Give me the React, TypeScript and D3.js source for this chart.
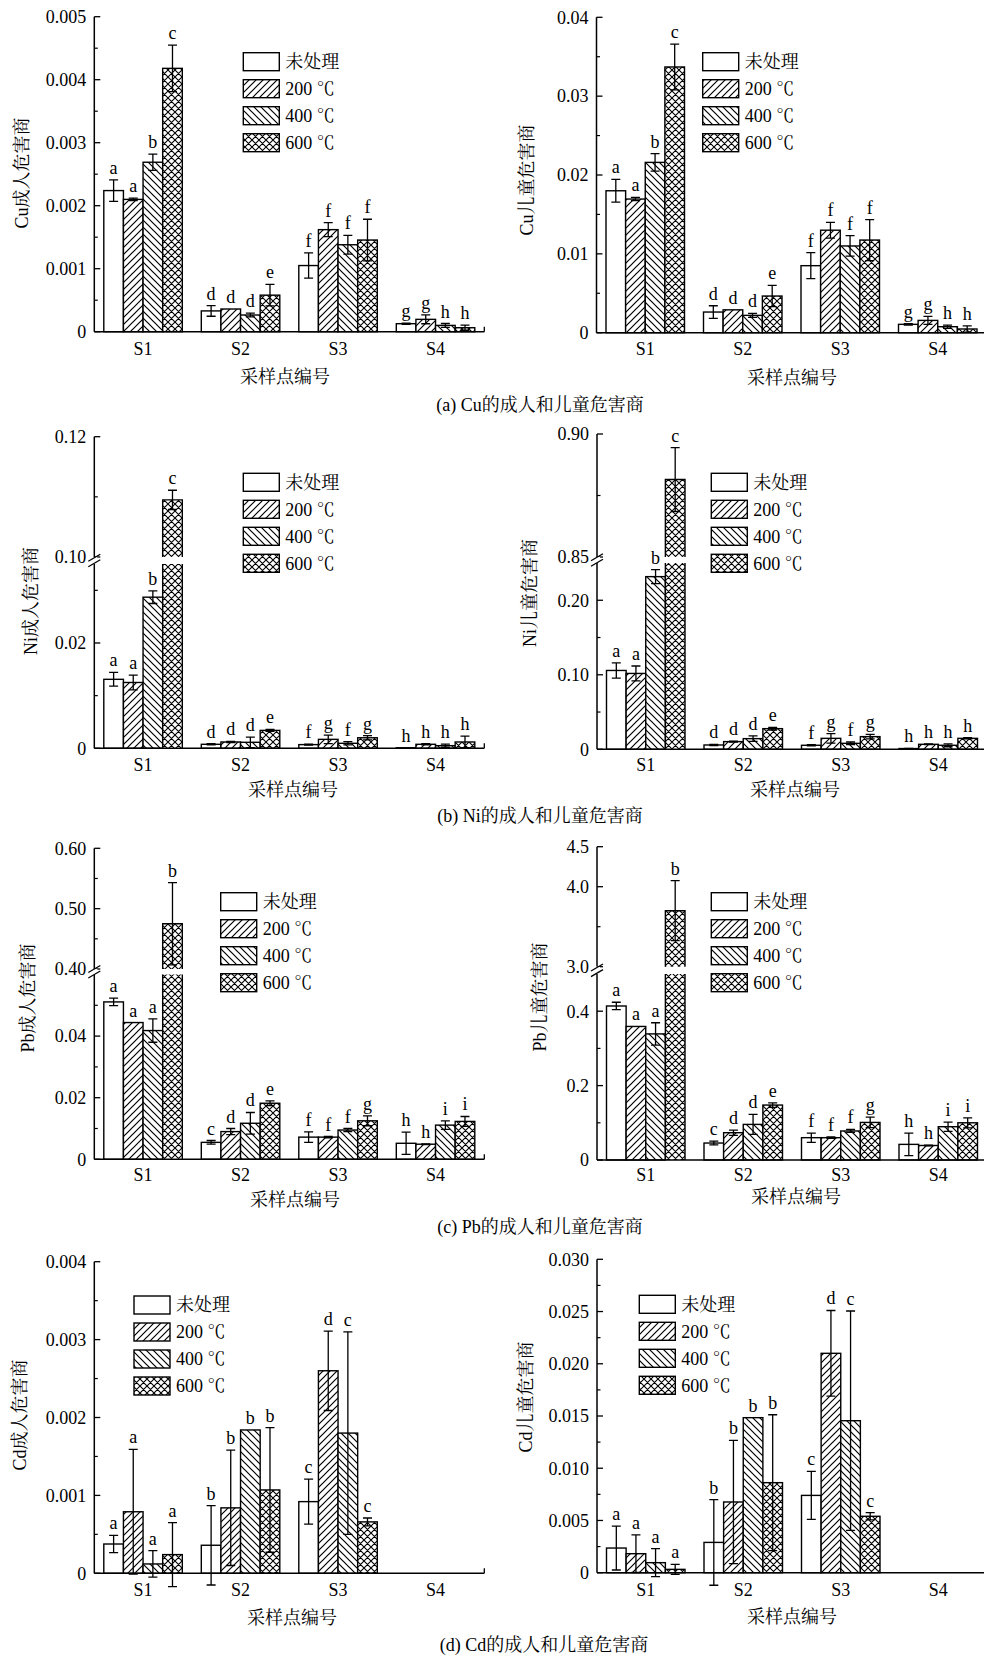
import React from "react";
import * as d3 from "d3";

const categories = ["S1", "S2", "S3", "S4"];
const seriesNames = ["未处理", "200 ℃", "400 ℃", "600 ℃"];

// values are [category][series]
const cuAdultMean = [
  [0.00224, 0.0021, 0.00269, 0.00418],
  [0.00033, 0.00036, 0.000265, 0.00058],
  [0.00105, 0.00162, 0.00138, 0.001455],
  [0.000127, 0.000196, 0.0001, 0.000063],
];
const cuAdultErr = [
  [0.00017, 0.00002, 0.00013, 0.00037],
  [0.000085, 0, 0.00003, 0.00017],
  [0.0002, 0.00011, 0.00015, 0.00033],
  [0.00001, 0.00007, 0.00003, 0.00004],
];
const cuChildMean = [
  [0.018, 0.01695, 0.0216, 0.0337],
  [0.00262, 0.0029, 0.0022, 0.00465],
  [0.0085, 0.013, 0.011, 0.01175],
  [0.00106, 0.00156, 0.00076, 0.00047],
];
const cuChildErr = [
  [0.00145, 0.0002, 0.0011, 0.0029],
  [0.0008, 0, 0.00025, 0.00135],
  [0.00165, 0.001, 0.0013, 0.0026],
  [0.0001, 0.0005, 0.0002, 0.0004],
];
const cuSig = [
  ["a", "a", "b", "c"],
  ["d", "d", "d", "e"],
  ["f", "f", "f", "f"],
  ["g", "g", "h", "h"],
];

const niAdultMean = [
  [0.0131, 0.0125, 0.0287, 0.1095],
  [0.00076, 0.0012, 0.00114, 0.0034],
  [0.0007, 0.0017, 0.00095, 0.002],
  [0.0001, 0.00076, 0.0005, 0.0012],
];
const niAdultErr = [
  [0.0013, 0.0014, 0.0012, 0.0016],
  [0.0001, 0.0001, 0.001, 0.0002],
  [0.0001, 0.0008, 0.0003, 0.0004],
  [0, 0.0001, 0.0003, 0.0011],
];
const niChildMean = [
  [0.1058, 0.1018, 0.2317, 0.8815],
  [0.0058, 0.0103, 0.0143, 0.0277],
  [0.0054, 0.0147, 0.008, 0.017],
  [0.001, 0.0067, 0.0054, 0.0147],
];
const niChildErr = [
  [0.0103, 0.01, 0.0094, 0.013],
  [0.0008, 0.0005, 0.0036, 0.0018],
  [0.0008, 0.0063, 0.0018, 0.003],
  [0.0002, 0.0005, 0.002, 0.0008],
];
const niSig = [
  ["a", "a", "b", "c"],
  ["d", "d", "d", "e"],
  ["f", "g", "f", "g"],
  ["h", "h", "h", "h"],
];

const pbAdultMean = [
  [0.0511, 0.0444, 0.0418, 0.475],
  [0.0055, 0.009, 0.0117, 0.0182],
  [0.0072, 0.0072, 0.0095, 0.0125],
  [0.0052, 0.0049, 0.0111, 0.0123],
];
const pbAdultErr = [
  [0.0012, 0, 0.0038, 0.068],
  [0.0006, 0.001, 0.0035, 0.0008],
  [0.0017, 0.0002, 0.0005, 0.0016],
  [0.0036, 0.0001, 0.0014, 0.0016],
];
const pbChildMean = [
  [0.414, 0.359, 0.339, 3.7],
  [0.0456, 0.0734, 0.0957, 0.1477],
  [0.06, 0.06, 0.078, 0.101],
  [0.042, 0.039, 0.0895, 0.1],
];
const pbChildErr = [
  [0.01, 0, 0.03, 0.375],
  [0.005, 0.007, 0.027, 0.006],
  [0.0125, 0.002, 0.004, 0.014],
  [0.03, 0.001, 0.0125, 0.0134],
];
const pbSig = [
  ["a", "a", "a", "b"],
  ["c", "d", "d", "e"],
  ["f", "f", "f", "g"],
  ["h", "h", "i", "i"],
];

const cdAdultMean = [
  [0.000376, 0.00079, 0.00012, 0.00024],
  [0.00036, 0.00084, 0.00184, 0.00107],
  [0.00092, 0.0026, 0.0018, 0.00066],
  [null, null, null, null],
];
const cdAdultErr = [
  [0.00011, 0.0008, 0.00017, 0.00041],
  [0.00051, 0.00074, 0, 0.0008],
  [0.00029, 0.00051, 0.0013, 0.00005],
  [0, 0, 0, 0],
];
const cdChildMean = [
  [0.00236, 0.00182, 0.00096, 0.00032],
  [0.0029, 0.00677, 0.01484, 0.00862],
  [0.0074, 0.021, 0.01455, 0.0054],
  [null, null, null, null],
];
const cdChildErr = [
  [0.0021, 0.0018, 0.00134, 0.00048],
  [0.0041, 0.0059, 0, 0.0065],
  [0.0023, 0.0041, 0.0105, 0.00035],
  [0, 0, 0, 0],
];
const cdSig = [
  ["a", "a", "a", "a"],
  ["b", "b", "b", "b"],
  ["c", "d", "c", "c"],
  ["", "", "", ""],
];

// tick values
const cuAdultTicks = [0, 0.001, 0.002, 0.003, 0.004, 0.005];
const cuAdultMinor = [0.0005, 0.0015, 0.0025, 0.0035, 0.0045];
const cuChildTicks = [0, 0.01, 0.02, 0.03, 0.04];
const cuChildMinor = [0.005, 0.015, 0.025, 0.035];
const niAdultLowTicks = [0, 0.02];
const niAdultLowMinor = [0.01, 0.03];
const niAdultHighTicks = [0.1, 0.12];
const niAdultHighMinor = [0.11];
const niChildLowTicks = [0, 0.1, 0.2];
const niChildLowMinor = [0.05, 0.15];
const niChildHighTicks = [0.85, 0.9];
const niChildHighMinor = [0.875];
const pbAdultLowTicks = [0, 0.02, 0.04];
const pbAdultLowMinor = [0.01, 0.03, 0.05];
const pbAdultHighTicks = [0.4, 0.5, 0.6];
const pbAdultHighMinor = [0.45, 0.55];
const pbChildLowTicks = [0, 0.2, 0.4];
const pbChildLowMinor = [0.1, 0.3];
const pbChildHighTicks = [3.0, 4.0, 4.5];
const pbChildHighMinor = [3.5];
const cdAdultTicks = [0, 0.001, 0.002, 0.003, 0.004];
const cdAdultMinor = [0.0005, 0.0015, 0.0025, 0.0035];
const cdChildTicks = [0, 0.005, 0.01, 0.015, 0.02, 0.025, 0.03];
const cdChildMinor = [0.0025, 0.0075, 0.0125, 0.0175, 0.0225, 0.0275];

const FONT = "'Liberation Serif', 'Times New Roman', 'Noto Serif CJK SC', 'Noto Sans CJK SC', serif";
const fills = ["#fff", "url(#p200)", "url(#p400)", "url(#p600)"];

type Seg = { domain: [number, number]; range: [number, number]; major: number[]; minor: number[] };

type PanelProps = {
  ax: number;
  segs: Seg[];
  fmt: (v: number) => string;
  mean: (number | null)[][];
  err: number[][];
  sig: string[][];
  legend: [number, number];
  yTitle: [string, number, number];
  xTitle: [number, number];
  catY: number;
};

const X_LEN = 390;

function Panel({ ax, segs, fmt, mean, err, sig, legend, yTitle, xTitle, catY }: PanelProps) {
  const scales = segs.map((s) => d3.scaleLinear().domain(s.domain).range(s.range));
  const y0 = segs[0].range[0];
  const yPos = (v: number) => {
    if (segs.length > 1 && v > segs[0].domain[1] && v < segs[1].domain[0]) return segs[0].range[1];
    const i = v <= segs[0].domain[1] || segs.length === 1 ? 0 : 1;
    return scales[i](v);
  };
  const x0 = d3.scaleBand().domain(categories).range([ax, ax + X_LEN]);
  const x1 = d3.scaleBand().domain(seriesNames).range([9.5, x0.bandwidth() - 9.5]);
  const w = x1.bandwidth();

  const bars: React.ReactNode[] = [];
  categories.forEach((c, ci) => {
    seriesNames.forEach((s, si) => {
      const v = mean[ci][si];
      if (v === null || v === undefined) return;
      const x = (x0(c) as number) + (x1(s) as number);
      const key = `${ci}-${si}`;
      if (segs.length === 1 || v <= segs[0].domain[1]) {
        const yv = yPos(v);
        bars.push(
          <rect key={key} x={x} y={yv} width={w} height={y0 - yv} fill={fills[si]} stroke="#000" strokeWidth={1.4} />
        );
      } else {
        const lt = segs[0].range[1];
        const ub = segs[1].range[0];
        const yv = yPos(v);
        bars.push(
          <g key={key}>
            <rect x={x} y={lt} width={w} height={y0 - lt} fill={fills[si]} />
            <path d={`M${x},${y0}V${lt}M${x + w},${y0}V${lt}`} stroke="#000" strokeWidth={1.4} fill="none" />
            <rect x={x} y={yv} width={w} height={ub - yv} fill={fills[si]} />
            <path d={`M${x},${ub}V${yv}H${x + w}V${ub}`} stroke="#000" strokeWidth={1.4} fill="none" />
          </g>
        );
      }
      const e = err[ci][si];
      const cx = x + w / 2;
      const yTopErr = yPos(v + e);
      if (e > 0) {
        const yBot = yPos(Math.max(v - e, segs[0].domain[0] - 1));
        bars.push(
          <path
            key={key + "e"}
            d={`M${cx},${yBot}V${yTopErr}M${cx - 4.5},${yTopErr}H${cx + 4.5}M${cx - 4.5},${yBot}H${cx + 4.5}`}
            stroke="#000"
            strokeWidth={1.3}
            fill="none"
          />
        );
      }
      if (sig[ci][si]) {
        bars.push(
          <text key={key + "t"} x={cx} y={yTopErr - 6} textAnchor="middle" fontSize={18}>
            {sig[ci][si]}
          </text>
        );
      }
    });
  });

  const axisEls: React.ReactNode[] = [];
  segs.forEach((s, i) => {
    axisEls.push(<line key={"ax" + i} x1={ax} x2={ax} y1={s.range[0]} y2={s.range[1]} stroke="#000" strokeWidth={1.5} />);
    s.major.forEach((t) => {
      const yy = scales[i](t);
      axisEls.push(<line key={`mj${i}-${t}`} x1={ax} x2={ax + 6} y1={yy} y2={yy} stroke="#000" strokeWidth={1.3} />);
      axisEls.push(
        <text key={`ml${i}-${t}`} x={ax - 8} y={yy} dy="0.35em" textAnchor="end" fontSize={18}>
          {fmt(t)}
        </text>
      );
    });
    s.minor.forEach((t) => {
      const yy = scales[i](t);
      axisEls.push(<line key={`mn${i}-${t}`} x1={ax} x2={ax + 3.5} y1={yy} y2={yy} stroke="#000" strokeWidth={1.2} />);
    });
  });
  if (segs.length > 1) {
    const mid = (segs[0].range[1] + segs[1].range[0]) / 2;
    axisEls.push(
      <rect key="bg" x={ax - 3} y={segs[1].range[0]} width={6} height={segs[0].range[1] - segs[1].range[0]} fill="#fff" />
    );
    [-2.8, 2.8].forEach((d) =>
      axisEls.push(
        <line key={"br" + d} x1={ax - 6} y1={mid + d + 3.5} x2={ax + 6} y2={mid + d - 3.5} stroke="#000" strokeWidth={1.3} />
      )
    );
  }

  return (
    <g>
      {bars}
      <line x1={ax} x2={ax + X_LEN} y1={y0} y2={y0} stroke="#000" strokeWidth={1.5} />
      <line x1={ax + X_LEN} x2={ax + X_LEN} y1={y0} y2={y0 - 5} stroke="#000" strokeWidth={1.3} />
      {axisEls}
      {categories.map((c) => (
        <text key={c} x={(x0(c) as number) + x0.bandwidth() / 2} y={catY} dy="0.35em" textAnchor="middle" fontSize={18}>
          {c}
        </text>
      ))}
      <text x={xTitle[0]} y={xTitle[1]} dy="0.35em" textAnchor="middle" fontSize={18}>
        采样点编号
      </text>
      <text
        transform={`translate(${yTitle[1]},${yTitle[2]}) rotate(-90)`}
        dy="0.35em"
        textAnchor="middle"
        fontSize={18}
      >
        {yTitle[0]}
      </text>
      {seriesNames.map((s, i) => {
        const cy = legend[1] + i * 27;
        return (
          <g key={s}>
            <rect x={legend[0]} y={cy - 9} width={36} height={18} fill={fills[i]} stroke="#000" strokeWidth={1.4} />
            <text x={legend[0] + 42} y={cy} dy="0.35em" fontSize={18}>
              {s}
            </text>
          </g>
        );
      })}
    </g>
  );
}

const fmtN = (p: string) => (v: number) => (v === 0 ? "0" : d3.format(p)(v));

export default function App() {
  return (
    <svg
      width={984}
      height={1657}
      style={{ position: "absolute", left: 0, top: 0, background: "#fff" }}
      fontFamily={FONT}
    >
      <defs>
        <pattern id="p200" patternUnits="userSpaceOnUse" width={7} height={7}>
          <rect width={7} height={7} fill="#fff" />
          <path d="M0,7L7,0M-1,1L1,-1M6,8L8,6" stroke="#000" strokeWidth={1.2} />
        </pattern>
        <pattern id="p400" patternUnits="userSpaceOnUse" width={7} height={7}>
          <rect width={7} height={7} fill="#fff" />
          <path d="M0,0L7,7M-1,6L1,8M6,-1L8,1" stroke="#000" strokeWidth={1.2} />
        </pattern>
        <pattern id="p600" patternUnits="userSpaceOnUse" width={7} height={7}>
          <rect width={7} height={7} fill="#fff" />
          <path d="M0,7L7,0M-1,1L1,-1M6,8L8,6M0,0L7,7M-1,6L1,8M6,-1L8,1" stroke="#000" strokeWidth={1.1} />
        </pattern>
      </defs>

      {/* (a) Cu */}
      <Panel
        ax={94.3}
        segs={[{ domain: [0, 0.005], range: [331.7, 16.7], major: cuAdultTicks, minor: cuAdultMinor }]}
        fmt={fmtN(".3f")}
        mean={cuAdultMean}
        err={cuAdultErr}
        sig={cuSig}
        legend={[243.3, 61.7]}
        yTitle={["Cu成人危害商", 22, 173]}
        xTitle={[285, 376.7]}
        catY={348.3}
      />
      <Panel
        ax={596.5}
        segs={[{ domain: [0, 0.04], range: [332.7, 17.3], major: cuChildTicks, minor: cuChildMinor }]}
        fmt={fmtN(".2f")}
        mean={cuChildMean}
        err={cuChildErr}
        sig={cuSig}
        legend={[702.7, 61.7]}
        yTitle={["Cu儿童危害商", 527, 180]}
        xTitle={[792, 378]}
        catY={348.3}
      />
      <text x={540} y={405} dy="0.35em" textAnchor="middle" fontSize={18}>
        (a) Cu的成人和儿童危害商
      </text>

      {/* (b) Ni */}
      <Panel
        ax={94.3}
        segs={[
          { domain: [0, 0.035], range: [748.3, 564], major: niAdultLowTicks, minor: niAdultLowMinor },
          { domain: [0.1, 0.12], range: [557, 436.7], major: niAdultHighTicks, minor: niAdultHighMinor },
        ]}
        fmt={fmtN(".2f")}
        mean={niAdultMean}
        err={niAdultErr}
        sig={niSig}
        legend={[243.3, 482.3]}
        yTitle={["Ni成人危害商", 31, 601]}
        xTitle={[293, 790]}
        catY={765}
      />
      <Panel
        ax={597}
        segs={[
          { domain: [0, 0.25], range: [749.3, 563], major: niChildLowTicks, minor: niChildLowMinor },
          { domain: [0.85, 0.9], range: [557, 434], major: niChildHighTicks, minor: niChildHighMinor },
        ]}
        fmt={fmtN(".2f")}
        mean={niChildMean}
        err={niChildErr}
        sig={niSig}
        legend={[711.3, 482.3]}
        yTitle={["Ni儿童危害商", 529.5, 593]}
        xTitle={[795, 790]}
        catY={765}
      />
      <text x={540} y={816} dy="0.35em" textAnchor="middle" fontSize={18}>
        (b) Ni的成人和儿童危害商
      </text>

      {/* (c) Pb */}
      <Panel
        ax={94.3}
        segs={[
          { domain: [0, 0.06], range: [1159.3, 974.5], major: pbAdultLowTicks, minor: pbAdultLowMinor },
          { domain: [0.4, 0.6], range: [969, 848.3], major: pbAdultHighTicks, minor: pbAdultHighMinor },
        ]}
        fmt={fmtN(".2f")}
        mean={pbAdultMean}
        err={pbAdultErr}
        sig={pbSig}
        legend={[220.7, 901.7]}
        yTitle={["Pb成人危害商", 28, 998]}
        xTitle={[295, 1200]}
        catY={1175}
      />
      <Panel
        ax={597}
        segs={[
          { domain: [0, 0.5], range: [1160, 974], major: pbChildLowTicks, minor: pbChildLowMinor },
          { domain: [3.0, 4.5], range: [966.7, 846.7], major: pbChildHighTicks, minor: pbChildHighMinor },
        ]}
        fmt={fmtN(".1f")}
        mean={pbChildMean}
        err={pbChildErr}
        sig={pbSig}
        legend={[711.3, 901.7]}
        yTitle={["Pb儿童危害商", 540, 997]}
        xTitle={[796, 1196.7]}
        catY={1175}
      />
      <text x={540} y={1227} dy="0.35em" textAnchor="middle" fontSize={18}>
        (c) Pb的成人和儿童危害商
      </text>

      {/* (d) Cd */}
      <Panel
        ax={94.3}
        segs={[{ domain: [0, 0.004], range: [1573.3, 1261.7], major: cdAdultTicks, minor: cdAdultMinor }]}
        fmt={fmtN(".3f")}
        mean={cdAdultMean}
        err={cdAdultErr}
        sig={cdSig}
        legend={[134, 1305]}
        yTitle={["Cd成人危害商", 19.5, 1415]}
        xTitle={[292, 1618]}
        catY={1589.3}
      />
      <Panel
        ax={597}
        segs={[{ domain: [0, 0.03], range: [1572.7, 1259.3], major: cdChildTicks, minor: cdChildMinor }]}
        fmt={fmtN(".3f")}
        mean={cdChildMean}
        err={cdChildErr}
        sig={cdSig}
        legend={[639.3, 1304.3]}
        yTitle={["Cd儿童危害商", 526, 1397]}
        xTitle={[792, 1616.7]}
        catY={1589.3}
      />
      <text x={544} y={1645} dy="0.35em" textAnchor="middle" fontSize={18}>
        (d) Cd的成人和儿童危害商
      </text>
    </svg>
  );
}
